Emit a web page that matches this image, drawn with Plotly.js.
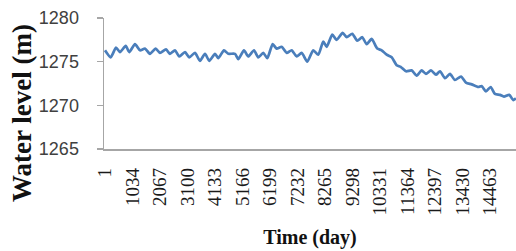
<!DOCTYPE html>
<html>
<head>
<meta charset="utf-8">
<script src="https://cdn.plot.ly/plotly-3.0.1.min.js"></script>
<style>
html,body{margin:0;padding:0;background:#fff;}
#chart{width:516px;height:251px;}
</style>
</head>
<body>
<div id="chart"></div>
<script>
// Time (day) of each sampled point
const days = [1,215,414,564,778,914,1128,1316,1503,1691,1905,2067,2292,2442,2630,2792,3006,3167,3381,3569,3757,3919,4133,4257,4471,4633,4884,5008,5222,5384,5598,5759,5947,6097,6300,6450,6638,6826,7013,7201,7389,7599,7825,8013,8200,8328,8538,8704,8929,9079,9290,9478,9665,9831,10018,10229,10394,10582,10770,10957,11108,11307,11521,11709,11896,12058,12246,12434,12584,12772,12959,13147,13372,13560,13775,14022,14150,14312,14488,14650,14838,14988,15186,15337,15438];
// Water level (m)
const waterLevel = [1276.3,1275.5,1276.6,1276.1,1276.8,1276.1,1277.0,1276.3,1276.5,1275.9,1276.5,1276.0,1276.4,1275.9,1276.3,1275.6,1276.1,1275.5,1276.0,1275.1,1275.9,1275.1,1275.9,1275.4,1276.3,1275.9,1275.9,1275.3,1276.3,1275.6,1276.3,1275.5,1276.0,1275.4,1277.0,1276.5,1276.7,1276.0,1276.3,1275.6,1276.0,1275.0,1276.3,1275.8,1277.3,1276.7,1278.1,1277.5,1278.3,1277.8,1278.2,1277.4,1277.8,1277.0,1277.6,1276.5,1276.3,1275.8,1275.5,1274.6,1274.4,1273.9,1274.0,1273.4,1274.0,1273.6,1274.0,1273.5,1273.9,1273.1,1273.6,1272.9,1273.3,1272.6,1272.4,1272.1,1272.2,1271.6,1272.1,1271.3,1271.2,1271.0,1271.2,1270.6,1270.8];
// X tick labels
const xTickLabels = ["1","1034","2067","3100","4133","5166","6199","7232","8265","9298","10331","11364","12397","13430","14463"];
const yTicks = [1265,1270,1275,1280];

const trace = {
  x: days, y: waterLevel, type: 'scatter', mode: 'lines',
  line: {color: '#4a7ebb', width: 2.7, shape: 'spline', smoothing: 0.6},
  hoverinfo: 'skip'
};

const layout = {
  width: 516, height: 251,
  margin: {l: 104, r: 0, t: 18, b: 102},
  paper_bgcolor: '#ffffff', plot_bgcolor: '#ffffff',
  showlegend: false,
  xaxis: {
    range: [-36, 15440],
    tickmode: 'array', tickvals: xTickLabels.map(Number), ticktext: xTickLabels,
    tickangle: -90, ticks: '', ticklabelstandoff: 10,
    showgrid: false, zeroline: false, showline: true,
    linecolor: '#a6a6a6', linewidth: 1.5,
    tickfont: {family: 'Liberation Serif, serif', size: 19, color: '#1a1a1a'},
    title: {text: '<b>Time (day)</b>', font: {family: 'Liberation Serif, serif', size: 20, color: '#111'}, standoff: 15}
  },
  yaxis: {
    range: [1265, 1280],
    tickmode: 'array', tickvals: yTicks, ticktext: yTicks.map(String),
    ticks: 'outside', ticklen: 6, tickcolor: '#a6a6a6', tickwidth: 1.5, ticklabelstandoff: 14,
    showgrid: false, zeroline: false, showline: true,
    linecolor: '#a6a6a6', linewidth: 1.5,
    tickfont: {family: 'Liberation Sans, sans-serif', size: 18, color: '#404040'}
  },
  annotations: [{
    text: '<b>Water level (m)</b>', textangle: -90, showarrow: false,
    xref: 'paper', yref: 'paper', x: -0.199, y: 0.275, xanchor: 'center', yanchor: 'middle',
    font: {family: 'Liberation Serif, serif', size: 27, color: '#111'}
  }]
};

Plotly.newPlot('chart', [trace], layout, {staticPlot: true, displayModeBar: false});
</script>
</body>
</html>
